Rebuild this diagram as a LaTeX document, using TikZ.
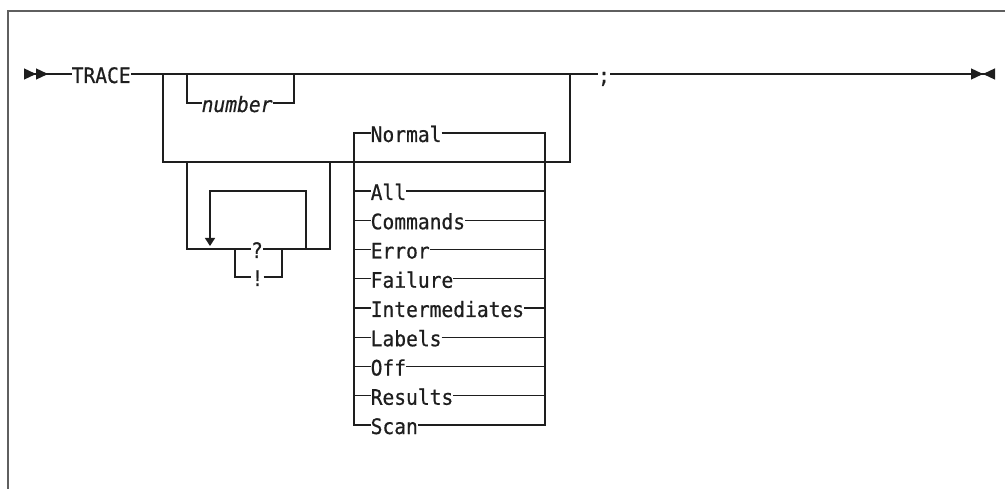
\documentclass[tikz,border=0pt]{standalone}
\usepackage{fontspec}
\setmonofont{DejaVu Sans Mono}[FakeStretch=0.92,FakeBold=0.6]
\usetikzlibrary{arrows.meta,positioning}
\definecolor{railInk}{RGB}{30,30,30}
\definecolor{frameGray}{RGB}{95,95,95}
\tikzset{
  rail/.style={draw=railInk,line width=1.3pt},
  kwd/.style={font=\ttfamily\fontsize{21.3}{22}\selectfont,text=railInk,inner sep=0pt,text height=18pt,text depth=0pt,anchor=west},
  startTip/.style={{Triangle[reversed,length=12pt,width=11pt]Triangle[reversed,length=12pt,width=11pt]}-},
  stopTip/.style={-{Triangle[length=12pt,width=11pt]Triangle[reversed,length=12pt,width=11pt]}},
  loopTip/.style={-{Triangle[length=8pt,width=10pt]}}
}

\begin{document}
\begin{tikzpicture}[x=1pt,y=-1pt]
\useasboundingbox (0,0) rectangle (1005,489);
\draw[frameGray,line width=1.2pt] (8,489) -- (8,11) -- (1005,11);

\coordinate (begin) at (24,74);
\coordinate (finish) at (995,74);
\node[kwd] (trace) at (71.5,74) {TRACE};
\node[kwd,anchor=center] (semi) at (604,74) {;};
\draw[rail,startTip] (begin) -- (trace.west);
\draw[rail] (trace.east) -- (semi.west);
\draw[rail,stopTip] (semi.east) -- (finish);

\node[kwd,font=\ttfamily\itshape\fontsize{21.3}{22}\selectfont] (num) at (201.5,103) {number};
\draw[rail] (187,74) |- (num.west);
\draw[rail] (num.east) -| (294,74);

\draw[rail] (163,74) |- (570,162) -- (570,74);

\node[kwd,anchor=center] (qmark) at (257,249) {?};
\node[kwd,anchor=center] (bang) at (257.5,277) {!};
\draw[rail] (187,162) |- (qmark.west);
\draw[rail] (qmark.east) -| (330,162);
\draw[rail] (235,249) |- (bang.west);
\draw[rail] (bang.east) -| (282,249);
\draw[rail,loopTip] (306,249) |- (210,191) -- (210,246);

\node[kwd] (normal) at (370.5,133) {Normal};
\node[kwd] (scan) at (370.5,425) {Scan};
\draw[rail] (normal.west) -| (354,425) -- (scan.west);
\draw[rail] (normal.east) -| (545,425) -- (scan.east);
\foreach \name/\word [count=\i from 0] in {all/All,cmds/Commands,error/Error,failure/Failure,inter/Intermediates,labels/Labels,off/Off,results/Results}{
  \node[kwd] (\name) at (370.5,{191+29.25*\i}) {\word};
  \draw[rail] (354,{191+29.25*\i}) -- (\name.west);
  \draw[rail] (\name.east) -- (545,{191+29.25*\i});
}
\end{tikzpicture}
\end{document}
